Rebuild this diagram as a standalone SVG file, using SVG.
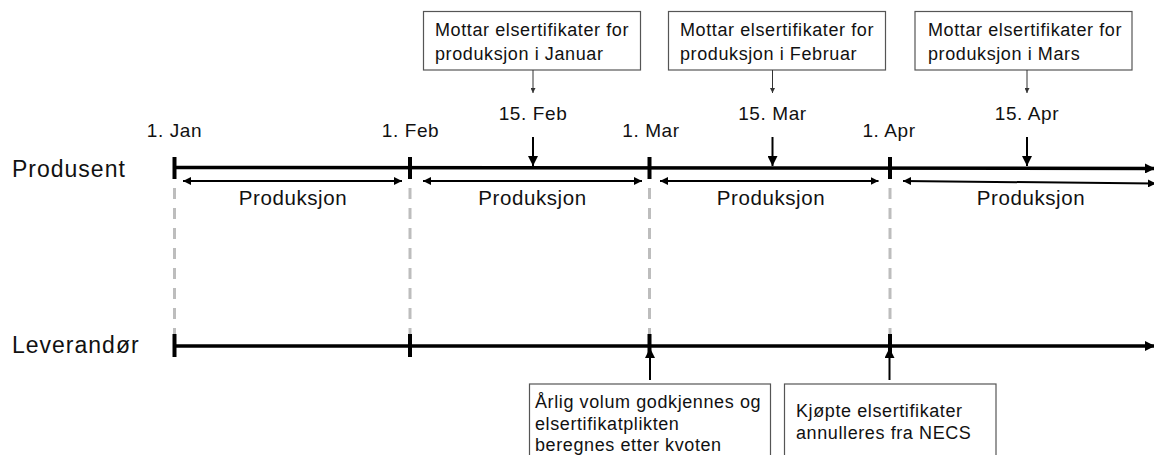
<svg xmlns="http://www.w3.org/2000/svg" width="1154" height="455" viewBox="0 0 1154 455">
  <style>
    text { font-family: "Liberation Sans", Arial, sans-serif; fill: #111; }
    .lane { font-size: 23px; letter-spacing: 1px; }
    .date { font-size: 19px; letter-spacing: 0.6px; text-anchor: middle; }
    .prod { font-size: 20.5px; letter-spacing: 0.6px; text-anchor: middle; }
    .note { font-size: 18px; letter-spacing: 0.6px; }
    .box { fill: #fff; stroke: #555; stroke-width: 1.2; }
    .axis { stroke: #000; stroke-width: 3.5; fill: none; }
    .tick { stroke: #000; stroke-width: 4; }
    .dash { stroke: #bdbdbd; stroke-width: 3; stroke-dasharray: 11 9; fill: none; }
    .span { stroke: #000; stroke-width: 2; fill: none; }
    .thick { stroke: #000; stroke-width: 2; fill: none; }
    .thin { stroke: #333; stroke-width: 1; fill: none; }
  </style>
  <defs>
    <marker id="ahBig" viewBox="0 0 10 10" refX="10" refY="5" markerUnits="userSpaceOnUse" markerWidth="10" markerHeight="10" orient="auto">
      <path d="M0,0 L10,5 L0,10 z" fill="#000"/>
    </marker>
    <marker id="ahMid" viewBox="0 0 10 10" refX="10" refY="5" markerUnits="userSpaceOnUse" markerWidth="8" markerHeight="8" orient="auto-start-reverse">
      <path d="M0,0 L10,5 L0,10 z" fill="#000"/>
    </marker>
    <marker id="ahSmall" viewBox="0 0 10 10" refX="10" refY="5" markerUnits="userSpaceOnUse" markerWidth="5" markerHeight="5" orient="auto">
      <path d="M0,0 L10,5 L0,10 z" fill="#333"/>
    </marker>
  </defs>
  <rect width="1154" height="455" fill="#fff"/>

  <g id="lane-labels">
    <text class="lane" x="12" y="177">Produsent</text>
    <text class="lane" x="12" y="353">Leverandør</text>
  </g>

  <g id="guides">
    <line class="dash" x1="174.5" y1="188" x2="174.5" y2="336"/>
    <line class="dash" x1="410" y1="188" x2="410" y2="336"/>
    <line class="dash" x1="649.5" y1="188" x2="649.5" y2="336"/>
    <line class="dash" x1="890" y1="188" x2="890" y2="336"/>
  </g>

  <g id="timeline-produsent">
    <line class="axis" x1="174.5" y1="167.5" x2="1155" y2="168.5" marker-end="url(#ahBig)"/>
    <line class="tick" x1="174.5" y1="157" x2="174.5" y2="179"/>
    <line class="tick" x1="410" y1="157" x2="410" y2="179"/>
    <line class="tick" x1="649.5" y1="157" x2="649.5" y2="179"/>
    <line class="tick" x1="890" y1="157" x2="890" y2="179"/>
  </g>

  <g id="timeline-leverandor">
    <line class="axis" x1="174.5" y1="346" x2="1155" y2="346" marker-end="url(#ahBig)"/>
    <line class="tick" x1="174.5" y1="334" x2="174.5" y2="357"/>
    <line class="tick" x1="410" y1="334" x2="410" y2="357"/>
    <line class="tick" x1="649.5" y1="334" x2="649.5" y2="357"/>
    <line class="tick" x1="890" y1="334" x2="890" y2="357"/>
  </g>

  <g id="dates">
    <text class="date" x="174.5" y="137">1. Jan</text>
    <text class="date" x="410.5" y="137">1. Feb</text>
    <text class="date" x="651" y="137">1. Mar</text>
    <text class="date" x="889" y="137">1. Apr</text>
    <text class="date" x="533" y="120">15. Feb</text>
    <text class="date" x="772.5" y="120">15. Mar</text>
    <text class="date" x="1027" y="120">15. Apr</text>
  </g>

  <g id="produksjon-1">
    <text class="prod" x="293" y="205">Produksjon</text>
  </g>
  <g id="produksjon-2">
    <text class="prod" x="532.5" y="205">Produksjon</text>
  </g>
  <g id="produksjon-3">
    <text class="prod" x="771" y="205">Produksjon</text>
  </g>
  <g id="produksjon-4">
    <text class="prod" x="1031" y="205">Produksjon</text>
  </g>

  <g id="box-januar">
    <rect class="box" x="423.5" y="11.5" width="217" height="58.5"/>
    <text class="note" x="435" y="36">Mottar elsertifikater for</text>
    <text class="note" x="435" y="59.5">produksjon i Januar</text>
  </g>
  <g id="box-februar">
    <rect class="box" x="668.5" y="11.5" width="217" height="58.5"/>
    <text class="note" x="680" y="36">Mottar elsertifikater for</text>
    <text class="note" x="680" y="59.5">produksjon i Februar</text>
  </g>
  <g id="box-mars">
    <rect class="box" x="915" y="11.5" width="217" height="58.5"/>
    <text class="note" x="928" y="36">Mottar elsertifikater for</text>
    <text class="note" x="928" y="59.5">produksjon i Mars</text>
  </g>

  <g id="box-arlig">
    <rect class="box" x="529.5" y="384" width="241" height="80"/>
    <text class="note" x="535" y="407.5">Årlig volum godkjennes og</text>
    <text class="note" x="535" y="430">elsertifikatplikten</text>
    <text class="note" x="535" y="451">beregnes etter kvoten</text>
  </g>
  <g id="box-annulleres">
    <rect class="box" x="784.5" y="384" width="211.5" height="80"/>
    <text class="note" x="796" y="417">Kjøpte elsertifikater</text>
    <text class="note" x="796" y="438.5">annulleres fra NECS</text>
  </g>

  <g id="connectors">
    <line class="span" x1="183" y1="181" x2="402" y2="181" marker-start="url(#ahMid)" marker-end="url(#ahMid)"/>
    <line class="span" x1="423" y1="181" x2="642" y2="181" marker-start="url(#ahMid)" marker-end="url(#ahMid)"/>
    <line class="span" x1="660" y1="181" x2="878.5" y2="181" marker-start="url(#ahMid)" marker-end="url(#ahMid)"/>
    <line class="span" x1="903" y1="181" x2="1156" y2="183.5" marker-start="url(#ahMid)" marker-end="url(#ahMid)"/>
    <line class="thin" x1="533" y1="70" x2="533" y2="93" marker-end="url(#ahSmall)"/>
    <line class="thin" x1="772.5" y1="70" x2="772.5" y2="93" marker-end="url(#ahSmall)"/>
    <line class="thin" x1="1027" y1="70" x2="1027" y2="93" marker-end="url(#ahSmall)"/>
    <line class="thick" x1="533" y1="137" x2="533" y2="166" marker-end="url(#ahBig)"/>
    <line class="thick" x1="772.5" y1="137" x2="772.5" y2="166" marker-end="url(#ahBig)"/>
    <line class="thick" x1="1027" y1="137" x2="1027" y2="166" marker-end="url(#ahBig)"/>
    <line class="thick" x1="650" y1="380" x2="650" y2="348" marker-end="url(#ahBig)"/>
    <line class="thick" x1="889.5" y1="380" x2="889.5" y2="348" marker-end="url(#ahBig)"/>
  </g>
</svg>
